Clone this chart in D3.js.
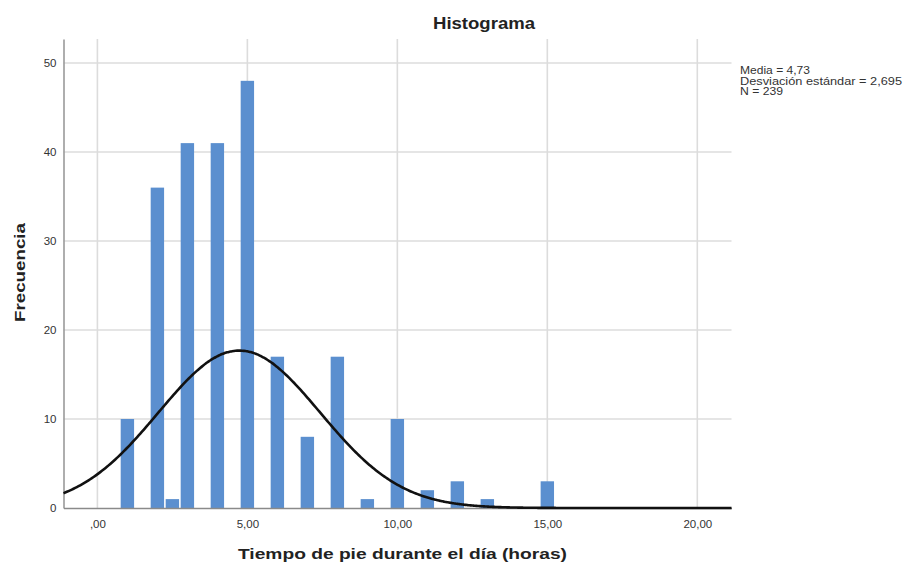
<!DOCTYPE html>
<html>
<head>
<meta charset="utf-8">
<script src="https://cdn.jsdelivr.net/npm/d3@7"></script>
<style>
  html, body { margin: 0; padding: 0; background: #fff; }
  svg { display: block; }
  text { font-family: "Liberation Sans", Arial, sans-serif; }
</style>
</head>
<body>
<svg id="chart" width="904" height="566"></svg>
<script>
// Histogram bins (centre of each 0.5-hour bin) and their counts
const binCenters = [1, 2, 2.5, 3, 4, 5, 6, 7, 8, 9, 10, 11, 12, 13, 15];
const binCounts  = [10, 36, 1, 41, 41, 48, 17, 8, 17, 1, 10, 2, 3, 1, 3];
const binWidth = 0.5;

// Summary statistics shown beside the plot
const mean = 4.73;
const stdDev = 2.695;
const nObs = 239;
const statLabels = ["Media = 4,73", "Desviación estándar = 2,695", "N = 239"];

const xTicks = [0, 5, 10, 15, 20];
const yTicks = [0, 10, 20, 30, 40, 50];

const titleText = "Histograma";
const xTitle = "Tiempo de pie durante el día (horas)";
const yTitle = "Frecuencia";

const svg = d3.select("#chart");

const plot = { left: 63.5, right: 731.5, top: 39, bottom: 508 };

const x = d3.scaleLinear().domain([-1.13, 21.14]).range([plot.left, plot.right]);
const y = d3.scaleLinear().domain([0, 52.7]).range([plot.bottom, plot.top]);

const esLocale = d3.formatLocale({ decimal: ",", thousands: ".", grouping: [3], currency: ["", "€"] });
const fmt2 = esLocale.format(".2f");
const xFormat = v => fmt2(v).replace(/^0,/, ",");

// Grid lines
const grid = svg.append("g").attr("class", "grid");
grid.selectAll("line.v").data(xTicks).join("line")
  .attr("class", "v")
  .attr("x1", d => x(d)).attr("x2", d => x(d))
  .attr("y1", plot.top).attr("y2", plot.bottom)
  .attr("stroke", "#dcdcdc").attr("stroke-width", 1.6);
grid.selectAll("line.h").data(yTicks.filter(d => d > 0)).join("line")
  .attr("class", "h")
  .attr("x1", plot.left).attr("x2", plot.right)
  .attr("y1", d => y(d)).attr("y2", d => y(d))
  .attr("stroke", "#dcdcdc").attr("stroke-width", 1.6);

// Bars
const bars = binCenters.map((c, i) => ({ c, n: binCounts[i] }));
const gap = 0.8;
svg.append("g").selectAll("rect").data(bars).join("rect")
  .attr("x", d => x(d.c - binWidth / 2) + gap)
  .attr("width", d => x(d.c + binWidth / 2) - x(d.c - binWidth / 2) - 2 * gap)
  .attr("y", d => y(d.n))
  .attr("height", d => y(0) - y(d.n))
  .attr("fill", "#5b8fcf");

// Axes
const yAxis = d3.axisLeft(y).tickValues(yTicks).tickSize(0).tickPadding(7).tickFormat(d3.format("d"));
const gy = svg.append("g").attr("transform", `translate(${plot.left},0)`).call(yAxis);
gy.select(".domain").attr("stroke", "#9a9a9a").attr("stroke-width", 1.6);
gy.selectAll("text").attr("font-size", 11.5).attr("fill", "#333");

const xAxis = d3.axisBottom(x).tickValues(xTicks).tickSize(0).tickPadding(12).tickFormat(xFormat);
const gx = svg.append("g").attr("transform", `translate(0,${plot.bottom})`).call(xAxis);
gx.select(".domain").attr("stroke", "#8a8a8a").attr("stroke-width", 1.6);
gx.selectAll("text").attr("font-size", 11.5).attr("fill", "#333");

// Normal curve scaled to counts per bin
const [x0, x1] = x.domain();
const curvePts = d3.range(0, 401).map(i => {
  const v = x0 + (x1 - x0) * i / 400;
  const z = (v - mean) / stdDev;
  return [v, nObs * binWidth * Math.exp(-0.5 * z * z) / (stdDev * Math.sqrt(2 * Math.PI))];
});
svg.append("path")
  .datum(curvePts)
  .attr("d", d3.line().x(d => x(d[0])).y(d => y(d[1])).curve(d3.curveBasis))
  .attr("fill", "none")
  .attr("stroke", "#111")
  .attr("stroke-width", 2.6);

// Titles
svg.append("text")
  .attr("x", 484).attr("y", 29)
  .attr("text-anchor", "middle")
  .attr("font-size", 16).attr("font-weight", "bold").attr("fill", "#222")
  .attr("textLength", 102).attr("lengthAdjust", "spacingAndGlyphs")
  .text(titleText);

svg.append("text")
  .attr("x", 402.5).attr("y", 559)
  .attr("text-anchor", "middle")
  .attr("font-size", 15.5).attr("font-weight", "bold").attr("fill", "#222")
  .attr("textLength", 329).attr("lengthAdjust", "spacingAndGlyphs")
  .text(xTitle);

svg.append("text")
  .attr("transform", "translate(25,272.5) rotate(-90)")
  .attr("text-anchor", "middle")
  .attr("font-size", 15.5).attr("font-weight", "bold").attr("fill", "#222")
  .attr("textLength", 99).attr("lengthAdjust", "spacingAndGlyphs")
  .text(yTitle);

// Statistics block
const statWidths = [70, 162, 43];
svg.append("g").selectAll("text").data(statLabels).join("text")
  .attr("x", 740)
  .attr("y", (d, i) => 74 + i * 10.5)
  .attr("font-size", 10.5).attr("fill", "#333")
  .attr("textLength", (d, i) => statWidths[i]).attr("lengthAdjust", "spacingAndGlyphs")
  .text(d => d);
</script>
</body>
</html>
